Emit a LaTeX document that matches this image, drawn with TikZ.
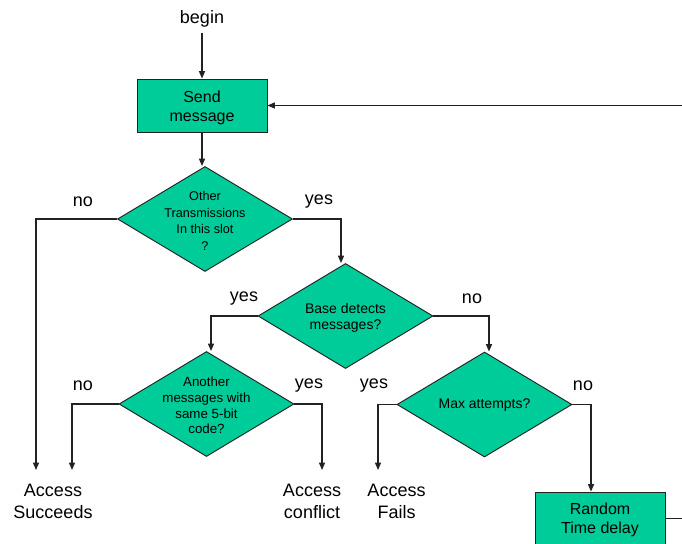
\documentclass[tikz,border=0pt]{standalone}
\usepackage{fontspec}
\setmainfont{Liberation Sans}
\usetikzlibrary{shapes.geometric,arrows.meta,calc}
\definecolor{fillg}{HTML}{00CC99}
\definecolor{linec}{HTML}{222222}
\begin{document}
\begin{tikzpicture}[x=0.75pt,y=-0.75pt,
  arr/.style={draw=linec,line width=0.9pt,-{Triangle[length=5.5pt,width=4.5pt]}},
  plain/.style={draw=linec,line width=0.9pt},
  boxnode/.style={draw=linec,line width=0.7pt,fill=fillg,rectangle,minimum width=97.5pt,minimum height=39.75pt,inner sep=0pt},
  dia/.style={draw=linec,line width=0.7pt,fill=fillg,diamond,minimum width=131.25pt,minimum height=78.75pt,inner sep=0pt},
  lbl/.style={font=\fontsize{13.5}{16}\selectfont,inner sep=0pt},
  term/.style={font=\fontsize{13.5}{16.5}\selectfont,align=center,inner xsep=0pt,inner ysep=10.5pt,anchor=north}]
\useasboundingbox (0,0) rectangle (682,543);
\clip (0,0) rectangle (682,543);

\node[lbl] (begin) at (202,19) {begin};
\node[boxnode] (send) at (202,105.5) {};
\node[align=center,font=\fontsize{12}{14.5}\selectfont] (sendt) at ($(send)+(0,2.5)$) {Send\\message};

\node[dia] (d1) at (205,219) {};
\node[align=center,font=\fontsize{9.5}{12.4}\selectfont] (t1) at ($(d1)+(0,2)$) {Other\\Transmissions\\In this slot\\?};

\node[dia] (d2) at (345.5,316) {};
\node[align=center,font=\fontsize{10.5}{12.5}\selectfont] (t2) at ($(d2)+(0,2)$) {Base detects\\messages?};

\node[dia] (d3) at (206.5,404) {};
\node[align=center,font=\fontsize{10}{11.8}\selectfont] (t3) at ($(d3)+(0,1.5)$) {Another\\messages with\\same 5-bit\\code?};

\node[dia] (d4) at (484.5,404.5) {};
\node[font=\fontsize{10.5}{12.5}\selectfont] (t4) at ($(d4)+(0,0.5)$) {Max attempts?};

\node[boxnode] (rand) at (600,518.5) {};
\node[align=center,font=\fontsize{12}{14}\selectfont] (randt) at ($(rand)+(0,1.5)$) {Random\\Time delay};

\node[term] (succ) at (53,470) {Access\\Succeeds};
\node[term] (conf) at (312,470) {Access\\conflict};
\node[term] (fail) at (396.5,470) {Access\\Fails};

\node[lbl] (n1) at (83,202) {no};
\node[lbl] (y1) at (319,202) {yes};
\node[lbl] (y2) at (244,299) {yes};
\node[lbl] (n2) at (472,299) {no};
\node[lbl] (n3) at (83,386) {no};
\node[lbl] (y3) at (309,386) {yes};
\node[lbl] (y4) at (374,386) {yes};
\node[lbl] (n4) at (583,386) {no};

\coordinate (loopin) at (690,105.5);
\coordinate (loopout) at (690,518.5);

\draw[arr] (begin.south) ++(0,5) -- (send.north);
\draw[arr] (send.south) -- ($(d1.north)+(-3,0)$);
\draw[arr] (d1.west) -| ($(succ.north)+(-17,0)$);
\draw[arr] (d1.east) -| ($(d2.north)+(-4.5,0)$);
\draw[arr] (d2.west) -| ($(d3.north)+(4.5,0)$);
\draw[arr] (d2.east) -| ($(d4.north)+(4.5,0)$);
\draw[arr] (d3.west) -| ($(succ.north)+(19,0)$);
\draw[arr] (d3.east) -| ($(conf.north)+(10,0)$);
\draw[arr] (d4.west) -| ($(fail.north)+(-18.5,0)$);
\draw[arr] (d4.east) -| ($(rand.north)+(-9,0)$);
\draw[arr] (loopin) -- (send.east);
\draw[plain] (rand.east) -- (loopout);
\end{tikzpicture}
\end{document}
